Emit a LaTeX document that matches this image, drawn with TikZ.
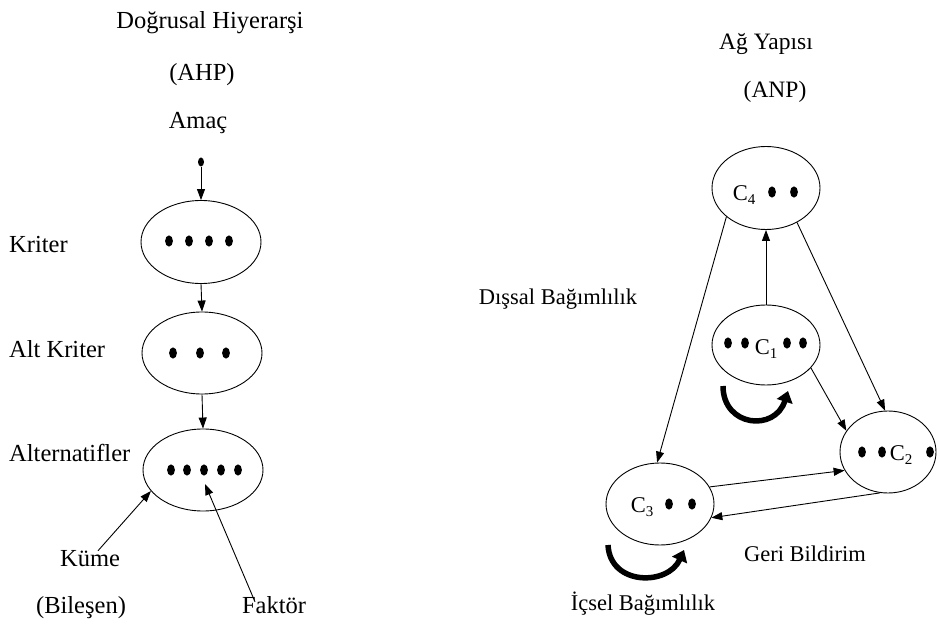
\documentclass[tikz,border=0pt]{standalone}
\usepackage{fontspec}
\setmainfont{Liberation Serif}
\usetikzlibrary{arrows.meta,shapes.geometric}

% lowered index after a cluster name
\newcommand\cidx[1]{\raisebox{-4pt}{\fontsize{15}{15}\selectfont #1}}
% one element dot inside a cluster
\newcommand\blob[1]{\fill #1 ellipse [x radius=3.9pt, y radius=5.6pt];}

\begin{document}
\begin{tikzpicture}[x=1pt,y=-1pt,
  lbl/.style={inner sep=0pt, anchor=base, font=\fontsize{24.5}{28}\selectfont},
  lblr/.style={lbl, font=\fontsize{22.5}{26}\selectfont},
  lblt/.style={lbl, font=\fontsize{23.5}{27}\selectfont},
  lblw/.style={lbl, anchor=base west},
  bub/.style={draw, ellipse, line width=0.9pt, inner sep=0pt},
  arr/.style={line width=0.9pt, -{Triangle[length=11pt,width=8pt]}},
  selfloop/.style={line width=5.5pt, -{Triangle[length=11pt,width=16pt]}}]

\useasboundingbox (0,0) rectangle (940,628);

% ---------------- linear hierarchy (AHP) ----------------
\node[lbl] (t1) at (210,29) {Doğrusal Hiyerarşi};
\node[lbl] (t2) at (202,81) {(AHP)};
\node[lbl] (goallbl) at (198,129) {Amaç};

\node[fill, ellipse, minimum width=6pt, minimum height=9pt, inner sep=0pt] (goal) at (201,162) {};

\node[bub, minimum width=120pt, minimum height=83pt] (k1) at (201,242) {};
\node[bub, minimum width=120pt, minimum height=82pt] (k2) at (202,353) {};
\node[bub, minimum width=120pt, minimum height=82pt] (k3) at (203,470) {};

\foreach \x in {169,189,209,229} {\blob{(\x,241)}}
\foreach \x in {173,200,226} {\blob{(\x,353)}}
\foreach \x in {171,187,204,221,238} {\blob{(\x,470)}}

\node[lblw] (l1) at (9,253) {Kriter};
\node[lblw] (l2) at (9,358) {Alt Kriter};
\node[lblw] (l3) at (9,461) {Alternatifler};
\node[lbl] (kume) at (90,566) {Küme};
\node[lbl] (bilesen) at (81,613) {(Bileşen)};
\node[lbl] (faktor) at (274,613) {Faktör};

\coordinate (ftip) at (205,484);

\draw[arr] (goal) -- (k1.north);
\draw[arr] (k1.south) -- (k2.north);
\draw[arr] (k2.south) -- (k3.north);
\draw[arr] ([xshift=8pt,yshift=-1pt]kume.north) -- (k3.202);
\draw[arr] ([xshift=-19pt,yshift=-6pt]faktor.north) -- (ftip);

% ---------------- network structure (ANP) ----------------
\node[lblt] (t3) at (766,50) {Ağ Yapısı};
\node[lblt] (t4) at (775,98) {(ANP)};

\node[bub, minimum width=108pt, minimum height=83pt] (c4) at (766,188) {};
\node[bub, minimum width=108pt, minimum height=80pt] (c1) at (766,345) {};
\node[bub, minimum width=96pt, minimum height=82pt] (c2) at (888,452) {};
\node[bub, minimum width=108pt, minimum height=82pt] (c3) at (660,504) {};

\node[lblr] (c4t) at (744,201) {C\cidx{4}};
\node[lblr] (c1t) at (766,355) {C\cidx{1}};
\node[lblr] (c2t) at (901,460) {C\cidx{2}};
\node[lblr] (c3t) at (642,512) {C\cidx{3}};

\foreach \x in {772,794} {\blob{(\x,192)}}
\foreach \x in {728,745,787,803} {\blob{(\x,343)}}
\foreach \x in {862,882,930} {\blob{(\x,452)}}
\foreach \x in {669,692} {\blob{(\x,504)}}

\node[lblr] (dis) at (558,305) {Dışsal Bağımlılık};
\node[lblr] (geri) at (805,561) {Geri Bildirim};
\node[lblr] (ic) at (643,610) {İçsel Bağımlılık};

\draw[arr] (c1.north) -- (c4.south);
\draw[arr] (c4.216) -- (c3.94);
\draw[arr] (c4.312) -- (c2.94);
\draw[arr] (c1.333) -- (c2.153);
\draw[arr] (c3.19) -- (c2.203);
\draw[arr] (c2.259) -- (c3.345);

% inner dependence loops
\draw[selfloop] ([shift={(-43,41)}]c1.center) .. controls ([shift={(-43,82)}]c1.center) and ([shift={(9,87)}]c1.center) .. ([shift={(22,46)}]c1.center);
\draw[selfloop] ([shift={(-52,41)}]c3.center) .. controls ([shift={(-50,82)}]c3.center) and ([shift={(8,82)}]c3.center) .. ([shift={(24,46)}]c3.center);

\end{tikzpicture}
\end{document}
